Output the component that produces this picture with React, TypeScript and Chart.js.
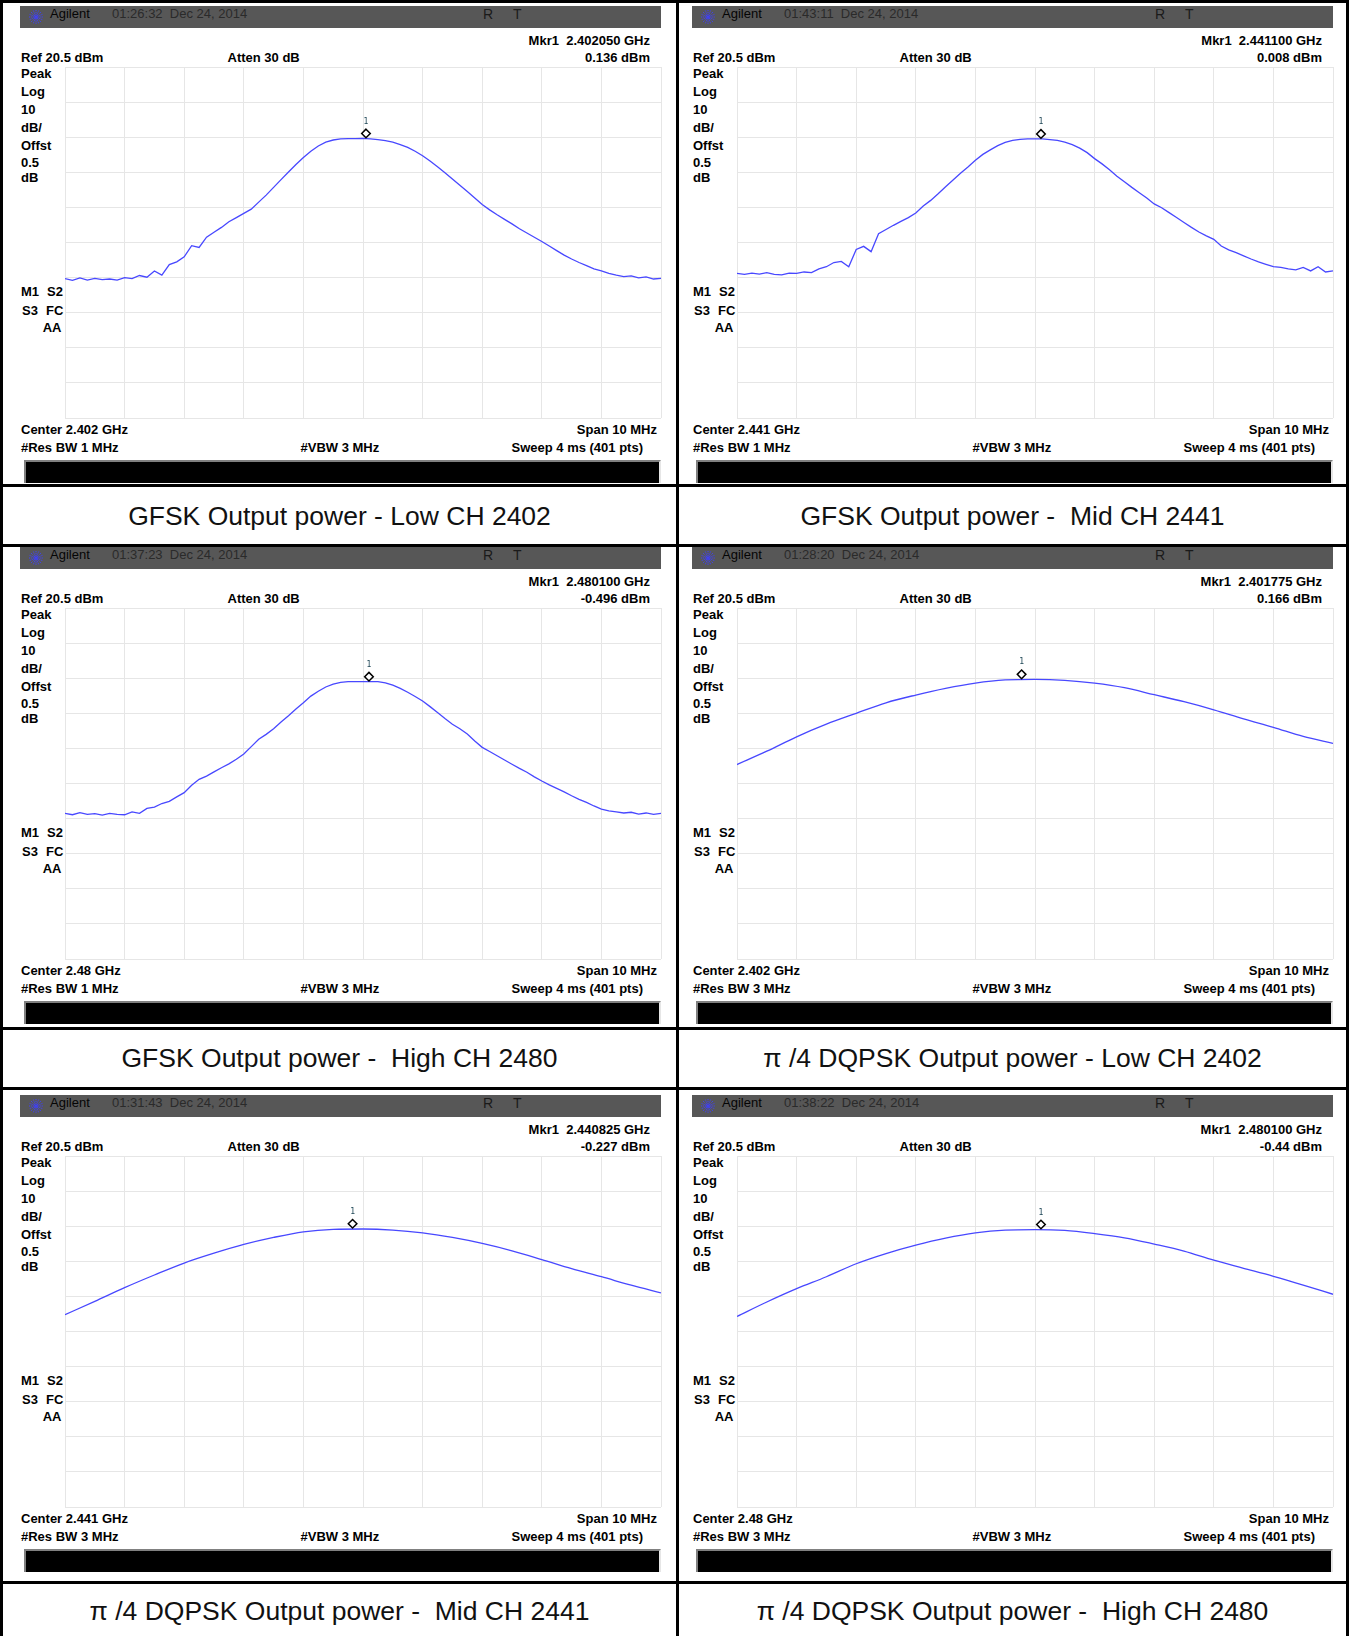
import React, { useEffect, useRef } from "react";
import { Chart, registerables } from "chart.js";

Chart.register(...registerables);

// ---------------- data ----------------
const GFSK_OFFSETS_MHZ = [
  -5, -4.875, -4.75, -4.625, -4.5, -4.375, -4.25, -4.125,
  -4, -3.875, -3.75, -3.625, -3.5, -3.375, -3.25, -3.125,
  -3, -2.875, -2.75, -2.625, -2.5, -2.375, -2.25, -2.125,
  -2, -1.875, -1.75, -1.625, -1.5, -1.375, -1.25, -1.125,
  -1, -0.875, -0.75, -0.625, -0.5, -0.375, -0.25, -0.125,
  0,
  0.125, 0.25, 0.375, 0.5, 0.625, 0.75, 0.875, 1,
  1.125, 1.25, 1.375, 1.5, 1.625, 1.75, 1.875, 2,
  2.125, 2.25, 2.375, 2.5, 2.625, 2.75, 2.875, 3,
  3.125, 3.25, 3.375, 3.5, 3.625, 3.75, 3.875, 4,
  4.125, 4.25, 4.375, 4.5, 4.625, 4.75, 4.875, 5,
];

const GFSK_LOW_DBM = [
  -39.8, -40.3, -39.6, -40.2, -39.7, -40.1, -39.9, -40.2,
  -39.5, -39.8, -38.9, -39.4, -37.6, -38.8, -35.8, -35.0,
  -33.6, -30.4, -30.9, -28.0, -26.6, -25.2, -23.6, -22.4,
  -21.2, -20.0, -18.0, -16.0, -13.8, -11.6, -9.4, -7.3,
  -5.3, -3.5, -2.0, -0.9, -0.3, 0.0, 0.1, 0.1,
  0.14,
  0.0, -0.2, -0.5, -0.9, -1.6, -2.4, -3.5, -4.8,
  -6.3, -7.9, -9.6, -11.4, -13.2, -15.0, -16.8, -18.7,
  -20.2, -21.6, -22.9, -24.2, -25.6, -26.8, -28.0, -29.2,
  -30.5, -31.8, -33.1, -34.2, -35.2, -36.1, -37.0, -37.6,
  -38.3, -38.8, -39.2, -39.0, -39.6, -39.3, -39.9, -39.7,
];

const GFSK_MID_DBM = [
  -38.3, -38.6, -38.2, -38.5, -38.1, -38.6, -38.7, -38.2,
  -38.3, -37.9, -38.1, -37.0, -36.4, -35.2, -34.9, -36.4,
  -31.5, -30.6, -32.1, -27.0, -25.8, -24.6, -23.5, -22.4,
  -21.1, -19.1, -17.5, -15.6, -13.6, -11.7, -9.8, -8.0,
  -6.1, -4.4, -3.1, -1.9, -1.0, -0.4, -0.1, 0.0,
  0.0,
  0.01, -0.2, -0.4, -0.9, -1.6, -2.6, -3.9, -5.6,
  -7.1, -8.8, -10.6, -12.2, -13.8, -15.3, -16.8, -18.5,
  -19.6, -21.0, -22.4, -23.8, -25.2, -26.5, -27.6, -28.6,
  -30.5, -31.6, -32.4, -33.3, -34.2, -35.0, -35.7, -36.4,
  -36.6, -37.0, -37.3, -36.6, -37.6, -36.4, -37.9, -37.6,
];

const GFSK_HIGH_DBM = [
  -38.0, -38.4, -37.8, -38.3, -38.1, -38.5, -38.0, -38.3,
  -38.4, -37.6, -38.0, -36.6, -36.2, -35.2, -34.6, -33.3,
  -32.1, -30.0, -28.3, -27.4, -26.2, -25.0, -23.9, -22.6,
  -21.1, -19.0, -16.9, -15.5, -13.9, -12.0, -10.2, -8.3,
  -6.5, -4.6, -3.2, -2.0, -1.2, -0.7, -0.5, -0.45,
  -0.45,
  -0.5, -0.5, -0.8, -1.5, -2.4, -3.5, -4.7, -6.0,
  -7.6, -9.3, -11.0, -12.6, -13.9, -15.4, -17.4, -19.2,
  -20.4, -21.6, -22.8, -24.0, -25.2, -26.3, -27.6, -28.8,
  -29.9, -30.9, -31.9, -33.0, -34.0, -34.9, -35.9, -36.8,
  -37.3, -37.6, -37.9, -37.7, -38.2, -37.9, -38.3, -38.0,
];

const DQPSK_OFFSETS_MHZ = [-5, -4.5, -4, -3.5, -3, -2.5, -2, -1.5, -1, -0.5, 0, 0.5, 1, 1.5, 2, 2.5, 3, 3.5, 4, 4.5, 5];
const DQPSK_LOW_DBM = [-24.1, -20.3, -16.2, -12.6, -9.5, -6.5, -4.3, -2.4, -0.9, 0.0, 0.17, -0.1, -0.9, -2.2, -4.2, -6.2, -8.5, -11.1, -13.5, -16.1, -18.1];
const DQPSK_MID_DBM = [-24.7, -20.9, -17.0, -13.4, -10.0, -7.2, -4.7, -2.7, -1.1, -0.4, -0.3, -0.6, -1.4, -2.7, -4.4, -6.5, -9.0, -11.6, -13.9, -16.3, -18.5];
const DQPSK_HIGH_DBM = [-25.2, -21.1, -17.3, -13.9, -10.2, -7.3, -4.9, -2.9, -1.4, -0.6, -0.45, -0.7, -1.6, -2.8, -4.6, -6.6, -9.2, -11.5, -13.8, -16.3, -18.9];

const MKR_OFFSETS_MHZ = [0.05, 0.1, 0.1, -0.225, -0.175, 0.1];
const MKR_LEVELS_DBM = [0.136, 0.008, -0.496, 0.166, -0.227, -0.44];

const X_GRID_MHZ = [-5, -4, -3, -2, -1, 0, 1, 2, 3, 4, 5];
const Y_GRID_DBM = [20.5, 10.5, 0.5, -9.5, -19.5, -29.5, -39.5, -49.5, -59.5, -69.5, -79.5];

const TIMES = [
  "01:26:32  Dec 24, 2014",
  "01:43:11  Dec 24, 2014",
  "01:37:23  Dec 24, 2014",
  "01:28:20  Dec 24, 2014",
  "01:31:43  Dec 24, 2014",
  "01:38:22  Dec 24, 2014",
];
const MKR_FREQ_LABELS = ["2.402050 GHz", "2.441100 GHz", "2.480100 GHz", "2.401775 GHz", "2.440825 GHz", "2.480100 GHz"];
const MKR_LEVEL_LABELS = ["0.136 dBm", "0.008 dBm", "-0.496 dBm", "0.166 dBm", "-0.227 dBm", "-0.44 dBm"];
const CENTER_LABELS = ["2.402 GHz", "2.441 GHz", "2.48 GHz", "2.402 GHz", "2.441 GHz", "2.48 GHz"];
const RBW_LABELS = ["1 MHz", "1 MHz", "1 MHz", "3 MHz", "3 MHz", "3 MHz"];
const CAPTIONS = [
  "GFSK Output power - Low CH 2402",
  "GFSK Output power -  Mid CH 2441",
  "GFSK Output power -  High CH 2480",
  "π /4 DQPSK Output power - Low CH 2402",
  "π /4 DQPSK Output power -  Mid CH 2441",
  "π /4 DQPSK Output power -  High CH 2480",
];
const SIDE_LABELS = ["Peak", "Log", "10", "dB/", "Offst", "0.5", "dB"];

const TRACES = [
  { x: GFSK_OFFSETS_MHZ, y: GFSK_LOW_DBM, smooth: false },
  { x: GFSK_OFFSETS_MHZ, y: GFSK_MID_DBM, smooth: false },
  { x: GFSK_OFFSETS_MHZ, y: GFSK_HIGH_DBM, smooth: false },
  { x: DQPSK_OFFSETS_MHZ, y: DQPSK_LOW_DBM, smooth: true },
  { x: DQPSK_OFFSETS_MHZ, y: DQPSK_MID_DBM, smooth: true },
  { x: DQPSK_OFFSETS_MHZ, y: DQPSK_HIGH_DBM, smooth: true },
];

// ---------------- layout ----------------
const W = 1349;
const H = 1636;
const COL_X = [0, 672];
const ROW_GT = [67, 608, 1156];
const GRID_X0 = 65;
const GRID_W = 596;
const GRID_H = 351;
const FONT = "'Liberation Sans', Arial, Helvetica, sans-serif";
const TRACE_COLOR = "#4848ff";
const GRID_COLOR = "#e6e6e6";

function Lbl({ x, y, t, a = "l" }: { x: number; y: number; t: string; a?: string }) {
  const style: React.CSSProperties = {
    position: "absolute",
    top: y - 8,
    height: 16,
    lineHeight: "16px",
    whiteSpace: "pre",
    font: `bold 13px ${FONT}`,
    color: "#000",
  };
  if (a === "l") style.left = x;
  else style.right = W - x;
  return <div style={style}>{t}</div>;
}

const markerPlugin = (idx: number) => ({
  id: "mkr" + idx,
  afterDatasetsDraw(chart: any) {
    const ctx = chart.ctx;
    const px = chart.scales.x.getPixelForValue(MKR_OFFSETS_MHZ[idx]);
    const py = chart.scales.y.getPixelForValue(MKR_LEVELS_DBM[idx]);
    const cy = py - 5;
    const r = 4.3;
    ctx.save();
    ctx.beginPath();
    ctx.moveTo(px, cy - r);
    ctx.lineTo(px + r, cy);
    ctx.lineTo(px, cy + r);
    ctx.lineTo(px - r, cy);
    ctx.closePath();
    ctx.fillStyle = "#fff";
    ctx.fill();
    ctx.lineWidth = 1.5;
    ctx.strokeStyle = "#000";
    ctx.stroke();
    ctx.fillStyle = "#1d4656";
    ctx.font = "8px 'DejaVu Sans Mono', monospace";
    ctx.textAlign = "center";
    ctx.textBaseline = "middle";
    ctx.fillText("1", px, cy - 12);
    ctx.restore();
  },
});

function Scope({ idx, ox, gt }: { idx: number; ox: number; gt: number }) {
  const ref = useRef<HTMLCanvasElement>(null);
  useEffect(() => {
    const tr = TRACES[idx];
    const pts = tr.x.map((v, i) => ({ x: v, y: tr.y[i] }));
    const chart = new Chart(ref.current as HTMLCanvasElement, {
      type: "line",
      data: {
        datasets: [
          {
            data: pts,
            borderColor: TRACE_COLOR,
            borderWidth: 1.3,
            pointRadius: 0,
            fill: false,
            tension: tr.smooth ? 0.4 : 0,
            cubicInterpolationMode: tr.smooth ? "monotone" : "default",
          } as any,
        ],
      },
      options: {
        animation: false,
        responsive: false,
        maintainAspectRatio: false,
        events: [],
        layout: { padding: 1 },
        plugins: { legend: { display: false }, tooltip: { enabled: false } },
        scales: {
          x: {
            type: "linear",
            min: -5,
            max: 5,
            ticks: { display: false },
            grid: { color: GRID_COLOR, lineWidth: 1, drawTicks: false },
            border: { display: false },
            afterBuildTicks: (s: any) => {
              s.ticks = X_GRID_MHZ.map((v) => ({ value: v }));
            },
          },
          y: {
            type: "linear",
            min: Y_GRID_DBM[Y_GRID_DBM.length - 1],
            max: Y_GRID_DBM[0],
            ticks: { display: false },
            grid: { color: GRID_COLOR, lineWidth: 1, drawTicks: false },
            border: { display: false },
            afterBuildTicks: (s: any) => {
              s.ticks = Y_GRID_DBM.map((v) => ({ value: v }));
            },
          },
        },
      } as any,
      plugins: [markerPlugin(idx)],
    });
    return () => chart.destroy();
  }, [idx]);
  return (
    <canvas
      ref={ref}
      width={GRID_W + 2}
      height={GRID_H + 2}
      style={{ position: "absolute", left: ox + GRID_X0 - 1, top: gt - 1, width: GRID_W + 2, height: GRID_H + 2 }}
    />
  );
}

function Logo({ x, y }: { x: number; y: number }) {
  const angles = [0, 22.5, 45, 67.5, 90, 112.5, 135, 157.5];
  return (
    <svg width="16" height="16" viewBox="-8 -8 16 16" style={{ position: "absolute", left: x - 8, top: y - 8 }}>
      {angles.map((a) => {
        const c = Math.cos((a * Math.PI) / 180) * 7;
        const s = Math.sin((a * Math.PI) / 180) * 7;
        return <line key={a} x1={-c} y1={-s} x2={c} y2={s} stroke="#4040ff" strokeWidth="1" strokeDasharray="1.2 0.9" />;
      })}
    </svg>
  );
}

function Panel({ idx, col, row }: { idx: number; col: number; row: number }) {
  const ox = COL_X[col];
  const gt = ROW_GT[row];
  const hTop = gt - 61;
  const sideOffsets = [7, 25, 42.5, 61, 79, 96, 111];
  return (
    <>
      <div style={{ position: "absolute", left: ox + 20, top: hTop, width: 641, height: 22, background: "#575757" }}>
        <Logo x={15.5} y={11} />
        <div style={{ position: "absolute", left: 30, top: 0, lineHeight: "22px", font: `13px ${FONT}`, color: "#050505" }}>Agilent</div>
        <div style={{ position: "absolute", left: 92, top: 0, lineHeight: "22px", font: `13px ${FONT}`, color: "#2a2a2a", whiteSpace: "pre" }}>
          {TIMES[idx]}
        </div>
        <div style={{ position: "absolute", left: 463, top: 0, lineHeight: "22px", font: `14px ${FONT}`, color: "#1a1a1a" }}>R</div>
        <div style={{ position: "absolute", left: 493, top: 0, lineHeight: "22px", font: `14px ${FONT}`, color: "#1a1a1a" }}>T</div>
      </div>
      <Lbl x={ox + 650} y={gt - 26.3} t={"Mkr1  " + MKR_FREQ_LABELS[idx]} a="r" />
      <Lbl x={ox + 21} y={gt - 9} t="Ref 20.5 dBm" />
      <Lbl x={ox + 227.5} y={gt - 9} t="Atten 30 dB" />
      <Lbl x={ox + 650} y={gt - 9} t={MKR_LEVEL_LABELS[idx]} a="r" />
      {SIDE_LABELS.map((s, i) => (
        <Lbl key={s + i} x={ox + 21} y={gt + sideOffsets[i]} t={s} />
      ))}
      <Lbl x={ox + 21} y={gt + 224.5} t="M1" />
      <Lbl x={ox + 47} y={gt + 224.5} t="S2" />
      <Lbl x={ox + 22} y={gt + 243.5} t="S3" />
      <Lbl x={ox + 46} y={gt + 243.5} t="FC" />
      <Lbl x={ox + 61.5} y={gt + 261} t="AA" a="r" />
      <Scope idx={idx} ox={ox} gt={gt} />
      <Lbl x={ox + 21} y={gt + 362.5} t={"Center " + CENTER_LABELS[idx]} />
      <Lbl x={ox + 657} y={gt + 362.5} t="Span 10 MHz" a="r" />
      <Lbl x={ox + 21} y={gt + 381} t={"#Res BW " + RBW_LABELS[idx]} />
      <Lbl x={ox + 300.5} y={gt + 381} t="#VBW 3 MHz" />
      <Lbl x={ox + 643} y={gt + 381} t="Sweep 4 ms (401 pts)" a="r" />
      <div
        style={{
          position: "absolute",
          left: ox + 24,
          top: gt + 393,
          width: 637,
          height: 23,
          boxSizing: "border-box",
          background: "#000",
          borderTop: "2px solid #808080",
          borderLeft: "2px solid #808080",
          borderRight: "2px solid #e6e6e6",
        }}
      />
    </>
  );
}

const H_LINES = [483.5, 543.5, 1027, 1086.5, 1580.5];
const CAPTION_Y = [516.5, 1059, 1611.5];
const CAPTION_X = [339.5, 1012.5];

export default function App() {
  return (
    <div style={{ position: "absolute", left: 0, top: 0, width: W, height: H, overflow: "hidden", background: "#fff" }}>
      {[0, 1, 2].map((row) =>
        [0, 1].map((col) => <Panel key={row * 2 + col} idx={row * 2 + col} col={col} row={row} />)
      )}
      {[0, 1, 2].map((row) =>
        [0, 1].map((col) => (
          <div
            key={"c" + row + col}
            style={{
              position: "absolute",
              left: CAPTION_X[col] - 330,
              width: 660,
              top: CAPTION_Y[row] - 16,
              height: 32,
              lineHeight: "32px",
              textAlign: "center",
              whiteSpace: "pre",
              font: `26.5px ${FONT}`,
              color: "#111",
            }}
          >
            {CAPTIONS[row * 2 + col]}
          </div>
        ))
      )}
      {/* table rules */}
      <div style={{ position: "absolute", left: 0, top: 0, width: W, height: 3, background: "#000" }} />
      <div style={{ position: "absolute", left: 0, top: 0, width: 3, height: H, background: "#000" }} />
      <div style={{ position: "absolute", left: 1346, top: 0, width: 3, height: H, background: "#000" }} />
      <div style={{ position: "absolute", left: 676, top: 0, width: 3, height: H, background: "#000" }} />
      {H_LINES.map((y) => (
        <div key={y} style={{ position: "absolute", left: 0, top: y, width: W, height: 3, background: "#000" }} />
      ))}
    </div>
  );
}
